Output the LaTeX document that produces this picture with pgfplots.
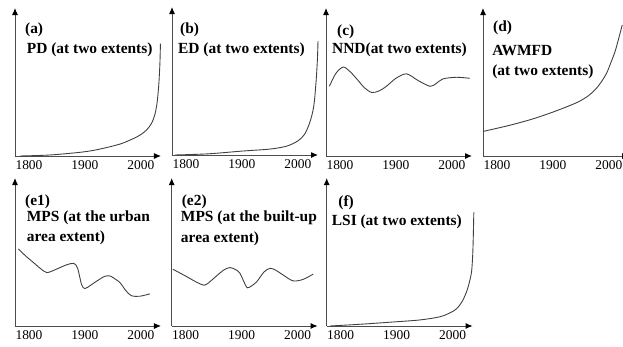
\documentclass[border=0pt]{standalone}
\usepackage{pgfplots}
\pgfplotsset{compat=1.18}
\usetikzlibrary{arrows.meta}
\usepackage{fontspec}
\setmainfont{Liberation Serif}

\pgfplotsset{
  panel/.style={
    scale only axis, width=146bp, height=148bp,
    anchor=south west,
    xmin=1775, xmax=2036, ymin=0, ymax=100,
    axis lines=left,
    axis line style={black!70, line width=1pt, -{Latex[length=7bp,width=6bp,color=black]}},
    xtick={1800,1900,2000}, xticklabels={1800,1900,2000},
    ytick=\empty,
    major tick length=0pt,
    xticklabel style={font=\fontsize{13.5}{14}\selectfont, inner sep=1pt, yshift=-3bp},
    clip=false,
  },
  curve/.style={black!75, line width=0.9pt, smooth, no marks},
}
\tikzset{ttl/.style={anchor=west, inner sep=0pt, font=\bfseries\fontsize{15.5}{16}\selectfont}}

\begin{document}
\begin{tikzpicture}
% (a)
\begin{axis}[panel, at={(15bp,-156bp)}]
\addplot[curve] coordinates {(1784,0) (1838,0.7) (1896,2.7) (1927,4.7) (1963,8.1) (1985,11.5) (1998,14) (2010,17.5) (2019,22) (2025,28) (2029,36) (2032,48) (2034,62) (2035,76)};
\node[ttl] at (axis description cs:0.068,0.851) {(a)};
\node[ttl] at (axis description cs:0.08,0.716) {PD (at two extents)};
\end{axis}
% (b)
\begin{axis}[panel, at={(172bp,-155bp)}]
\addplot[curve] coordinates {(1780,0) (1840,0.8) (1902,2.7) (1950,4) (1980,6) (2000,9.5) (2012,14) (2021,21.6) (2027,30) (2030,38) (2033,52) (2035,65) (2036,77)};
\node[ttl] at (axis description cs:0.055,0.845) {(b)};
\node[ttl] at (axis description cs:0.041,0.709) {ED (at two extents)};
\end{axis}
% (c)
\begin{axis}[panel, at={(326bp,-156bp)}]
\addplot[curve] coordinates {(1781,47.1) (1793,56) (1806,60.1) (1818,57) (1830,52.1) (1844,46) (1857,42.9) (1870,44) (1883,47.1) (1900,52.5) (1919,55.5) (1940,50.9) (1961,47.1) (1972,49) (1984,52.1) (2008,53.2) (2032,52.5)};
\node[ttl] at (axis description cs:0.075,0.838) {(c)};
\node[ttl] at (axis description cs:0.041,0.716) {NND(at two extents)};
\end{axis}
% (d)
\begin{axis}[panel, at={(483bp,-156bp)}]
\addplot[curve] coordinates {(1775,16.6) (1820,20.5) (1861,24.7) (1895,29) (1921,32.7) (1945,36.5) (1963,40.6) (1976,45) (1986,49.8) (1996,56) (2004,63.5) (2011,70.5) (2016,77.2) (2024,88.6)};
\node[ttl] at (axis description cs:0.068,0.865) {(d)};
\node[ttl] at (axis description cs:0.062,0.716) {AWMFD};
\node[ttl] at (axis description cs:0.062,0.568) {(at two extents)};
\end{axis}
% (e1)
\begin{axis}[panel, at={(15bp,-326bp)}]
\addplot[curve] coordinates {(1781,52.1) (1795,47) (1808,42.9) (1820,39) (1832,36.1) (1849,38.4) (1867,41.3) (1880,42.3) (1887,39) (1894,28) (1900,25.3) (1910,27.5) (1921,30.3) (1935,33.5) (1945,33.8) (1955,31.5) (1963,29.2) (1973,24) (1983,20.5) (1998,20.1) (2016,21.7)};
\node[ttl] at (axis description cs:0.068,0.84) {(e1)};
\node[ttl] at (axis description cs:0.08,0.732) {MPS (at the urban};
\node[ttl] at (axis description cs:0.08,0.593) {area extent)};
\end{axis}
% (e2)
\begin{axis}[panel, at={(171.7bp,-326bp)}]
\addplot[curve] coordinates {(1777,38.4) (1802,33.3) (1820,29.5) (1834,27.6) (1845,30.5) (1855,33.8) (1868,37.8) (1879,39.5) (1890,38) (1897,35.6) (1904,30) (1910,25.8) (1918,27.2) (1927,29.9) (1940,36.5) (1951,39) (1962,37.5) (1974,34.5) (1992,30.5) (2010,31.5) (2028,35.1)};
\node[ttl] at (axis description cs:0.068,0.84) {(e2)};
\node[ttl] at (axis description cs:0.062,0.728) {MPS (at the built-up};
\node[ttl] at (axis description cs:0.062,0.588) {area extent)};
\end{axis}
% (f)
\begin{axis}[panel, at={(326.7bp,-326bp)}]
\addplot[curve] coordinates {(1781,0) (1840,1.3) (1893,2.7) (1942,4.1) (1977,6.2) (1995,8.8) (2007,11.6) (2017,16.5) (2025,23.1) (2030,29.5) (2034,36.8) (2036,48) (2037,59.6) (2038,76.7)};
\node[ttl] at (axis description cs:0.079,0.83) {(f)};
\node[ttl] at (axis description cs:0.034,0.705) {LSI (at two extents)};
\end{axis}
\pgfresetboundingbox
\path[use as bounding box] (0,0) rectangle (623bp,-347bp);
\end{tikzpicture}
\end{document}
